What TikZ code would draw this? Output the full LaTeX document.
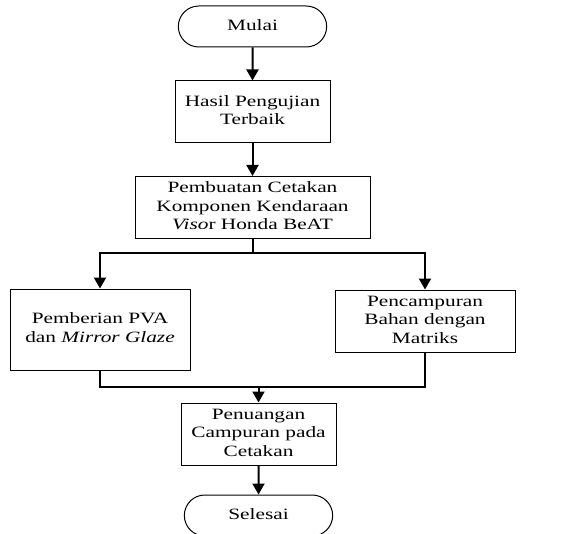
\documentclass[tikz,border=0pt]{standalone}
\usepackage{graphicx}
\usepackage{fontspec}
\setmainfont{Liberation Serif}
\usepackage{tikz}
\usetikzlibrary{shapes,arrows.meta,positioning,calc}

% wide text lines, as in the scanned chart
\newcommand{\wtext}[1]{\scalebox{1.42}[1.05]{\begin{tabular}{@{}c@{}}#1\end{tabular}}}

\begin{document}
\begin{tikzpicture}[
    x=1pt, y=-1pt,
    font=\fontsize{15}{17.5}\selectfont,
    terminal/.style={rounded rectangle, draw, line width=1pt, minimum width=155pt, minimum height=41pt, align=center},
    process/.style={rectangle, draw, line width=1pt, align=center, inner sep=2pt},
    arrow/.style={-{Triangle[width=12pt,length=11pt]}, line width=2pt},
    line/.style={line width=2pt}
]
\useasboundingbox (0,0) rectangle (577,534);

% Start and first steps
\node[terminal] (mulai) at (252.5,26.5) {\wtext{Mulai}};
\node[process, minimum width=155pt, minimum height=62pt] (hasil) at (252.5,112) {\wtext{Hasil Pengujian\\Terbaik}};
\node[process, minimum width=235pt, minimum height=62pt] (pembuatan) at (252.5,207.5) {\wtext{Pembuatan Cetakan\\Komponen Kendaraan\\\textit{Viso}r Honda BeAT}};

\draw[arrow] (mulai) -- (hasil);
\draw[arrow] (hasil) -- (pembuatan);

% Two branches
\node[process, minimum width=180pt, minimum height=81pt] (pemberian) at (100,329.5) {\wtext{Pemberian PVA\\dan \textit{Mirror Glaze}}};
\node[process, minimum width=180pt, minimum height=62pt] (pencampuran) at (425,321) {\wtext{Pencampuran\\Bahan dengan\\Matriks}};

\coordinate (split) at (252.5,253);
\draw[line] (pembuatan.south) -- (split);
\draw[arrow] (split) -| (pemberian.north);
\draw[arrow] (split) -| (pencampuran.north);

% Merge and finish
\node[process, minimum width=155pt, minimum height=62pt] (penuangan) at (258.5,434) {\wtext{Penuangan\\Campuran pada\\Cetakan}};
\node[terminal] (selesai) at (258.5,515.5) {\wtext{Selesai}};

\coordinate (merge) at (258.5,387);
\draw[line] (pemberian.south) |- (merge);
\draw[line] (pencampuran.south) |- (merge);
\draw[arrow] (merge) -- (penuangan);
\draw[arrow] (penuangan) -- (selesai);

\end{tikzpicture}
\end{document}
